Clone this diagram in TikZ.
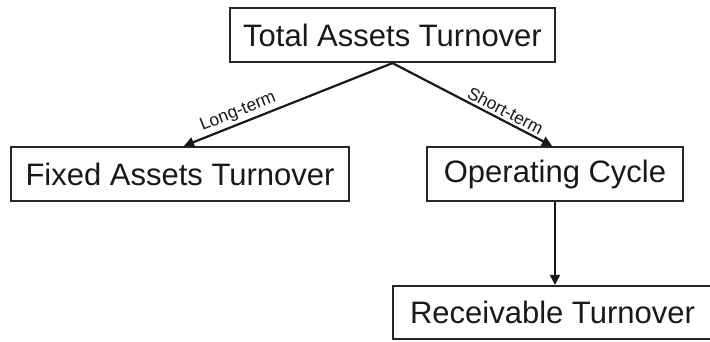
\documentclass[tikz,border=0pt]{standalone}
\usepackage{fontspec}
\setmainfont{Liberation Sans}
\usetikzlibrary{arrows.meta}
\begin{document}
\begin{tikzpicture}[x=1pt,y=-1pt,
  box/.style={draw=black!85, line width=2.2pt, rectangle, inner sep=0pt,
    font=\fontsize{31}{36}\selectfont, text=black!90},
  conn/.style={draw=black!90, line width=2.2pt, -{Triangle[length=10pt,width=10pt]}},
  lbl/.style={font=\fontsize{17.5}{20}\selectfont, text=black!90, sloped, above, inner sep=2.5pt}]
\useasboundingbox (0,0) rectangle (710,341);
\node[box, minimum width=325pt, minimum height=54pt] (top) at (392.5,35) {Total Assets Turnover};
\node[box, minimum width=338pt, minimum height=54pt] (fixed) at (180,174) {Fixed Assets Turnover};
\node[box, minimum width=256pt, minimum height=54pt] (oper) at (555,174) {Operating Cycle};
\node[box, minimum width=319pt, minimum height=53pt] (recv) at (552.5,312.5) {Receivable Turnover};
\draw[conn] (top.south) -- node[lbl, pos=0.72] {Long-term} ([xshift=4pt]fixed.north);
\draw[conn] (top.south) -- node[lbl, pos=0.68] {Short-term} ([xshift=-3pt]oper.north);
\draw[conn] (oper.south) -- (oper.south |- recv.north);
\end{tikzpicture}
\end{document}
